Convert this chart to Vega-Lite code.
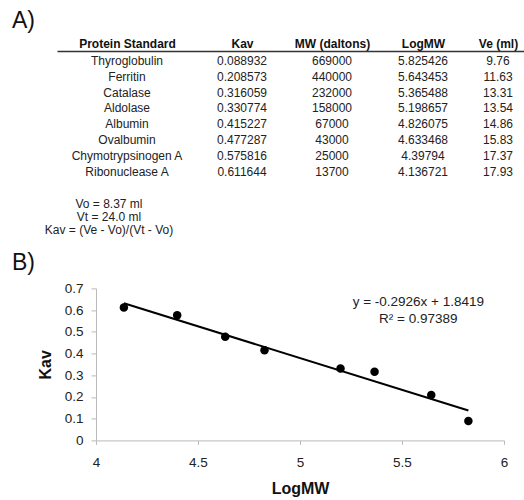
{
  "$schema": "https://vega.github.io/schema/vega-lite/v6.json",
  "padding": {"left": 12, "top": 10, "right": 0, "bottom": 0},
  "background": "white",
  "spacing": 15.7,
  "config": {
    "font": "Liberation Sans",
    "view": {"stroke": null}
  },
  "datasets": {
    "standards": [
      {"Protein": "Thyroglobulin", "Kav": 0.088932, "MW": 669000, "LogMW": 5.825426, "Ve": 9.76},
      {"Protein": "Ferritin", "Kav": 0.208573, "MW": 440000, "LogMW": 5.643453, "Ve": 11.63},
      {"Protein": "Catalase", "Kav": 0.316059, "MW": 232000, "LogMW": 5.365488, "Ve": 13.31},
      {"Protein": "Aldolase", "Kav": 0.330774, "MW": 158000, "LogMW": 5.198657, "Ve": 13.54},
      {"Protein": "Albumin", "Kav": 0.415227, "MW": 67000, "LogMW": 4.826075, "Ve": 14.86},
      {"Protein": "Ovalbumin", "Kav": 0.477287, "MW": 43000, "LogMW": 4.633468, "Ve": 15.83},
      {"Protein": "Chymotrypsinogen A", "Kav": 0.575816, "MW": 25000, "LogMW": 4.39794, "Ve": 17.37},
      {"Protein": "Ribonuclease A", "Kav": 0.611644, "MW": 13700, "LogMW": 4.136721, "Ve": 17.93}
    ],
    "notes": [
      {"Note": "Vo = 8.37 ml"},
      {"Note": "Vt  =  24.0 ml"},
      {"Note": "Kav = (Ve - Vo)/(Vt - Vo)"}
    ]
  },
  "vconcat": [
    {
      "title": {"text": "A)", "anchor": "start", "frame": "group", "dx": -84, "fontSize": 23, "fontWeight": "normal", "color": "#111", "font": "Liberation Sans", "offset": 4},
      "width": 428,
      "height": 130.6,
      "data": {"name": "standards"},
      "layer": [
        {
          "mark": {"type": "text", "fontSize": 12, "color": "#222", "align": "center", "baseline": "middle"},
          "encoding": {
            "x": {"datum": 0, "type": "quantitative", "title": null,
              "scale": {"type": "linear", "domain": [-1, 0, 1, 2, 3, 4, 5], "range": [-39, 31, 146, 236, 327, 402, 428], "nice": false, "zero": false},
              "axis": {"orient": "top", "values": [0, 1, 2, 3, 4], "labelExpr": "['Protein Standard','Kav','MW (daltons)','LogMW','Ve (ml)'][datum.value]", "labelFontWeight": "bold", "labelFontSize": 12, "labelColor": "#111", "labelPadding": 1, "ticks": false, "tickSize": 0, "grid": false, "domainColor": "#333", "domainWidth": 1.5, "labelOverlap": false, "labelFlush": false, "labelAngle": 0}},
            "y": {"field": "Protein", "type": "nominal", "axis": null, "sort": null,
              "scale": {"type": "point", "padding": 0.633}},
            "text": {"field": "Protein", "type": "nominal"}
          }
        },
        {
          "mark": {"type": "text", "fontSize": 12, "color": "#222", "align": "center", "baseline": "middle"},
          "encoding": {
            "x": {"datum": 1, "type": "quantitative", "title": null},
            "y": {"field": "Protein", "type": "nominal", "axis": null, "sort": null},
            "text": {"field": "Kav", "type": "nominal"}
          }
        },
        {
          "mark": {"type": "text", "fontSize": 12, "color": "#222", "align": "center", "baseline": "middle"},
          "encoding": {
            "x": {"datum": 2, "type": "quantitative", "title": null},
            "y": {"field": "Protein", "type": "nominal", "axis": null, "sort": null},
            "text": {"field": "MW", "type": "nominal"}
          }
        },
        {
          "mark": {"type": "text", "fontSize": 12, "color": "#222", "align": "center", "baseline": "middle"},
          "encoding": {
            "x": {"datum": 3, "type": "quantitative", "title": null},
            "y": {"field": "Protein", "type": "nominal", "axis": null, "sort": null},
            "text": {"field": "LogMW", "type": "nominal"}
          }
        },
        {
          "mark": {"type": "text", "fontSize": 12, "color": "#222", "align": "center", "baseline": "middle"},
          "encoding": {
            "x": {"datum": 4, "type": "quantitative", "title": null},
            "y": {"field": "Protein", "type": "nominal", "axis": null, "sort": null},
            "text": {"field": "Ve", "type": "nominal"}
          }
        }
      ]
    },
    {
      "width": 26,
      "height": 39,
      "data": {"name": "notes"},
      "mark": {"type": "text", "fontSize": 12, "color": "#222", "align": "center", "baseline": "middle"},
      "encoding": {
        "y": {"field": "Note", "type": "nominal", "axis": null, "sort": null, "scale": {"type": "point", "padding": 0.5}},
        "text": {"field": "Note", "type": "nominal"}
      }
    },
    {
      "title": {"text": "B)", "anchor": "start", "frame": "group", "dx": -84, "fontSize": 23, "fontWeight": "normal", "color": "#111", "font": "Liberation Sans", "offset": 6},
      "width": 408,
      "height": 152,
      "data": {"name": "standards"},
      "encoding": {
        "x": {"field": "LogMW", "type": "quantitative", "title": "LogMW",
          "scale": {"domain": [4, 6], "nice": false, "zero": false},
          "axis": {"values": [4, 4.5, 5, 5.5, 6], "format": "~g", "grid": false, "labelFontSize": 13.5, "labelColor": "#222", "labelPadding": 11, "tickSize": 4, "tickColor": "#bbb", "domainColor": "#bbb", "titleFontSize": 16, "titleFontWeight": "bold", "titleColor": "#111", "titlePadding": 12, "labelFlush": false}},
        "y": {"field": "Kav", "type": "quantitative", "title": "Kav",
          "scale": {"domain": [0, 0.7], "nice": false},
          "axis": {"values": [0, 0.1, 0.2, 0.3, 0.4, 0.5, 0.6, 0.7], "format": "~g", "grid": false, "labelFontSize": 13.5, "labelColor": "#222", "labelPadding": 8, "tickSize": 5, "tickColor": "#bbb", "domainColor": "#bbb", "titleFontSize": 16, "titleFontWeight": "bold", "titleColor": "#111", "titlePadding": 11, "labelFlush": false}}
      },
      "layer": [
        {
          "mark": {"type": "circle", "size": 72, "color": "#000", "opacity": 1}
        },
        {
          "transform": [{"regression": "Kav", "on": "LogMW"}],
          "mark": {"type": "line", "color": "#000", "strokeWidth": 2}
        },
        {
          "transform": [{"filter": "datum.Protein === 'Thyroglobulin'"}],
          "mark": {"type": "text", "fontSize": 13.5, "fontWeight": "normal", "color": "#222", "align": "center", "baseline": "middle"},
          "encoding": {
            "x": {"datum": 5.58},
            "y": {"datum": 0.638},
            "text": {"value": "y = -0.2926x + 1.8419"}
          }
        },
        {
          "transform": [{"filter": "datum.Protein === 'Thyroglobulin'"}],
          "mark": {"type": "text", "fontSize": 13.5, "fontWeight": "normal", "color": "#222", "align": "center", "baseline": "middle"},
          "encoding": {
            "x": {"datum": 5.58},
            "y": {"datum": 0.56},
            "text": {"value": "R² = 0.97389"}
          }
        }
      ]
    }
  ]
}
